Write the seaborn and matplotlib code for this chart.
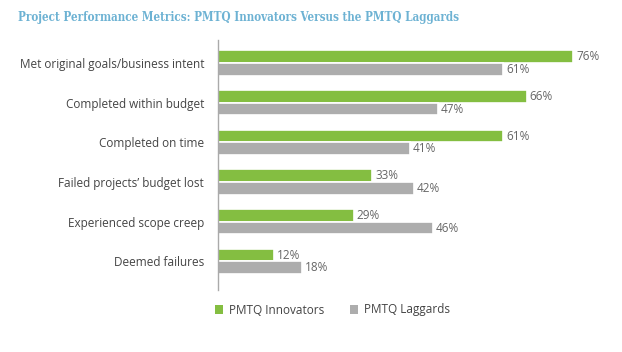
import matplotlib
matplotlib.use("Agg")
import matplotlib.pyplot as plt
import seaborn as sns
import pandas as pd
from matplotlib.patches import Patch

categories = ["Met original goals/business intent", "Completed within budget",
              "Completed on time", "Failed projects\u2019 budget lost",
              "Experienced scope creep", "Deemed failures"]
innovators = [76, 66, 61, 33, 29, 12]
laggards = [61, 47, 41, 42, 46, 18]
series = ["PMTQ Innovators", "PMTQ Laggards"]
colors = ["#84BE41", "#ADADAD"]

df = pd.DataFrame({
    "category": categories * 2,
    "value": innovators + laggards,
    "series": [series[0]] * len(categories) + [series[1]] * len(categories),
})

sns.set_style("white")
plt.rcParams["font.family"] = ["Open Sans", "DejaVu Sans"]

fig = plt.figure(figsize=(6.22, 3.52), dpi=100)
ax = fig.add_axes([218 / 622, 1 - 290 / 352, (620 - 218) / 622, 250 / 352])

sns.barplot(data=df, y="category", x="value", hue="series", palette=colors,
            saturation=1, orient="h", width=0.64, edgecolor="white", linewidth=1.2,
            legend=False, ax=ax)

for cont in ax.containers:
    ax.bar_label(cont, labels=[f"{v:.0f}%" for v in cont.datavalues],
                 padding=2, fontsize=8.5, color="#666666")

ax.set_xlim(0, 86)
ax.set_ylim(5.72, -0.58)
ax.set_xlabel("")
ax.set_ylabel("")
ax.set_xticks([])
ax.tick_params(axis="y", length=0, pad=10, labelsize=8.5, labelcolor="#444444")
for s in ["top", "right", "bottom"]:
    ax.spines[s].set_visible(False)
ax.spines["left"].set_color("#AAAAAA")
ax.spines["left"].set_linewidth(1.0)

fig.text(18 / 622, 1 - 18 / 352, "Project Performance Metrics: PMTQ Innovators Versus the PMTQ Laggards",
         fontsize=8.4, color="#6DB2D3", family="DejaVu Serif", fontstretch="condensed",
         fontweight="bold", va="center", ha="left")

handles = [Patch(facecolor=c, edgecolor="none") for c in colors]
fig.legend(handles, series, loc="center left", bbox_to_anchor=(204 / 622, 1 - 310 / 352),
           ncol=2, frameon=False, fontsize=8.5, handlelength=0.7, handleheight=0.7,
           handletextpad=0.5, columnspacing=2.2, labelcolor="#444444")

fig.savefig("out.png", dpi=100)
